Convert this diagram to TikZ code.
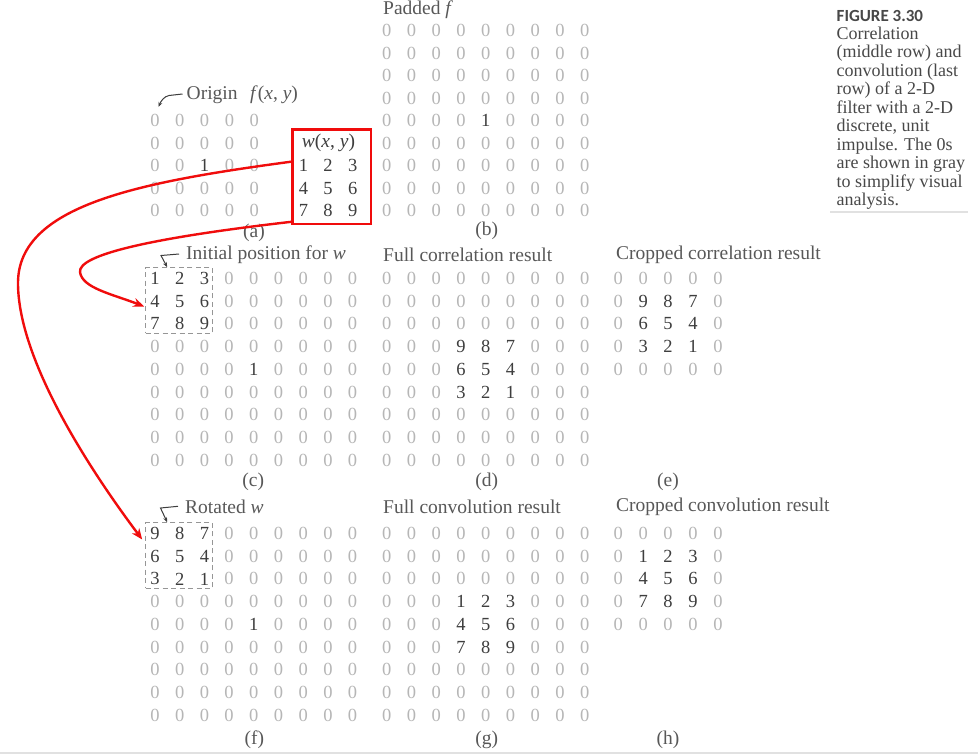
\documentclass[tikz,border=0pt]{standalone}
\usepackage{fontspec}
\setmainfont{Liberation Serif}
\newfontfamily\figfont{Carlito}
\usetikzlibrary{arrows.meta,calc}
\definecolor{zgray}{RGB}{182,182,182}
\definecolor{dgray}{RGB}{62,62,62}
\definecolor{lgray}{RGB}{88,88,88}
\definecolor{capgray}{RGB}{72,72,72}
\definecolor{boxred}{RGB}{240,12,12}
\definecolor{dashgray}{RGB}{150,150,150}
\definecolor{rulegray}{RGB}{225,225,225}
\newcommand\mygrid[6]{%
  \foreach \r [count=\j from 0] in {#6} {
    \foreach \v [count=\i from 0] in \r {
      \ifnum\v=0
        \node[zr] (#1-\j-\i) at ({#2+#4*\i},{#3+#5*\j}) {0};
      \else
        \node[nz] (#1-\j-\i) at ({#2+#4*\i},{#3+#5*\j}) {\v};
      \fi
    }
  }
}
\tikzset{
  zr/.style={text=zgray, inner sep=0, font=\fontsize{18.5}{20}\selectfont},
  nz/.style={text=dgray, inner sep=0, font=\fontsize{18.5}{20}\selectfont},
  lab/.style={text=lgray, inner sep=0, anchor=west, font=\fontsize{19.5}{22}\selectfont},
  sublab/.style={text=lgray, inner sep=0, font=\fontsize{19.5}{22}\selectfont},
  capline/.style={text=capgray, inner sep=0, anchor=base west, font=\fontsize{18}{18.5}\selectfont},
  dashbox/.style={draw=dashgray, line width=1pt, dash pattern=on 5pt off 3.5pt, inner sep=0},
  redbox/.style={draw=boxred, line width=2.6pt, inner sep=0},
  redarrow/.style={draw=boxred, line width=2.4pt, -{Stealth[length=11pt,width=9pt]}},
  leader/.style={draw=dgray, line width=1pt, -{Stealth[length=5pt,width=4pt]}},
}
\begin{document}
\begin{tikzpicture}[x=1pt,y=-1pt]
\fill[white] (0,0) rectangle (978,755);
\useasboundingbox (0,0) rectangle (978,755);

% (a) f(x,y)
\mygrid{a}{155}{120.7}{24.8}{22.5}{{0,0,0,0,0},{0,0,0,0,0},{0,0,1,0,0},{0,0,0,0,0},{0,0,0,0,0}}
\node[lab] (orig) at (186.5,95) {Origin};
\node[lab] (flab) at (250,95) {\textit{f}(\textit{x}, \textit{y})};
\coordinate (o1) at ($(orig.west)+(-4,-1)$);
\coordinate (ot) at (158.5,107);
\draw[leader] (o1) -- (169,95.5) .. controls (164,96.5) and (161,101) .. (ot);
\node[sublab] (suba) at (254,233) {(a)};

% w box
\node[redbox, minimum width=78.3, minimum height=94.7] (wbox) at (331.85,176.65) {};
\node[nz, font=\fontsize{19.5}{22}\selectfont] (wlab) at (328.5,143.2) {\textit{w}(\textit{x}, \textit{y})};
\mygrid{w}{303.5}{165.7}{24.6}{22.5}{{1,2,3},{4,5,6},{7,8,9}}

% (b) padded f
\node[lab] (padlab) at (383,10) {Padded \textit{f}};
\mygrid{b}{386.7}{30.7}{24.75}{22.5}{{0,0,0,0,0,0,0,0,0},{0,0,0,0,0,0,0,0,0},{0,0,0,0,0,0,0,0,0},{0,0,0,0,0,0,0,0,0},{0,0,0,0,1,0,0,0,0},{0,0,0,0,0,0,0,0,0},{0,0,0,0,0,0,0,0,0},{0,0,0,0,0,0,0,0,0},{0,0,0,0,0,0,0,0,0}}
\node[sublab] (subb) at (486.7,231) {(b)};

% (c) initial position
\node[lab] (initlab) at (186,255) {Initial position for \textit{w}};
\mygrid{c}{155}{278.5}{24.7}{22.7}{{1,2,3,0,0,0,0,0,0},{4,5,6,0,0,0,0,0,0},{7,8,9,0,0,0,0,0,0},{0,0,0,0,0,0,0,0,0},{0,0,0,0,1,0,0,0,0},{0,0,0,0,0,0,0,0,0},{0,0,0,0,0,0,0,0,0},{0,0,0,0,0,0,0,0,0},{0,0,0,0,0,0,0,0,0}}
\node[dashbox, minimum width=67, minimum height=65.6] (cbox) at (179.2,300.5) {};
\coordinate (i1) at ($(initlab.west)+(-7,-1)$);
\coordinate (ct) at ($(cbox.north west)+(22,0)$);
\draw[leader] (i1) -- (161,255.5) -- (ct);
\node[sublab] (subc) at (253.3,481.5) {(c)};

% (d) full correlation
\node[lab] (dlab) at (383,255) {Full correlation result};
\mygrid{d}{386.7}{278.5}{24.75}{22.7}{{0,0,0,0,0,0,0,0,0},{0,0,0,0,0,0,0,0,0},{0,0,0,0,0,0,0,0,0},{0,0,0,9,8,7,0,0,0},{0,0,0,6,5,4,0,0,0},{0,0,0,3,2,1,0,0,0},{0,0,0,0,0,0,0,0,0},{0,0,0,0,0,0,0,0,0},{0,0,0,0,0,0,0,0,0}}
\node[sublab] (subd) at (486.7,481.5) {(d)};

% (e) cropped correlation
\node[lab] (elab) at (616,255) {Cropped correlation result};
\mygrid{e}{618.3}{278.5}{24.9}{22.7}{{0,0,0,0,0},{0,9,8,7,0},{0,6,5,4,0},{0,3,2,1,0},{0,0,0,0,0}}
\node[sublab] (sube) at (668,481.5) {(e)};

% (f) rotated w
\node[lab] (rotlab) at (185,507.3) {Rotated \textit{w}};
\mygrid{f}{155}{533.5}{24.7}{22.7}{{9,8,7,0,0,0,0,0,0},{6,5,4,0,0,0,0,0,0},{3,2,1,0,0,0,0,0,0},{0,0,0,0,0,0,0,0,0},{0,0,0,0,1,0,0,0,0},{0,0,0,0,0,0,0,0,0},{0,0,0,0,0,0,0,0,0},{0,0,0,0,0,0,0,0,0},{0,0,0,0,0,0,0,0,0}}
\node[dashbox, minimum width=67, minimum height=65.6] (fbox) at (179.2,555.5) {};
\coordinate (r1) at ($(rotlab.west)+(-7,-1)$);
\coordinate (rt) at ($(fbox.north west)+(22,0)$);
\draw[leader] (r1) -- (160.5,508) -- (rt);
\node[sublab] (subf) at (254.3,739.5) {(f)};

% (g) full convolution
\node[lab] (glab) at (383,507.3) {Full convolution result};
\mygrid{g}{386.7}{533.5}{24.75}{22.7}{{0,0,0,0,0,0,0,0,0},{0,0,0,0,0,0,0,0,0},{0,0,0,0,0,0,0,0,0},{0,0,0,1,2,3,0,0,0},{0,0,0,4,5,6,0,0,0},{0,0,0,7,8,9,0,0,0},{0,0,0,0,0,0,0,0,0},{0,0,0,0,0,0,0,0,0},{0,0,0,0,0,0,0,0,0}}
\node[sublab] (subg) at (486.7,739.5) {(g)};

% (h) cropped convolution
\node[lab] (hlab) at (616,507.3) {Cropped convolution result};
\mygrid{h}{618.3}{533.5}{24.9}{22.7}{{0,0,0,0,0},{0,1,2,3,0},{0,4,5,6,0},{0,7,8,9,0},{0,0,0,0,0}}
\node[sublab] (subh) at (668,739.5) {(h)};

% red connectors
\coordinate (wa) at ($(wbox.west)+(0,-15)$);
\coordinate (wb) at ($(wbox.south west)+(0,-3.5)$);
\coordinate (fa) at ($(fbox.west)+(-3,-16)$);
\coordinate (fb) at ($(cbox.west)+(-1,6)$);
\draw[redarrow] (wa) .. controls (140,182) and (18,205) .. (18,283) .. controls (18,360) and (90,470) .. (fa);
\draw[redarrow] (wb) .. controls (150,238) and (78,255) .. (80,272) .. controls (82,288) and (112,294) .. (fb);

% caption
\node[inner sep=0, anchor=west, text=capgray, font=\figfont\bfseries\fontsize{17}{18}\selectfont] (fig) at (836.5,15.5) {FIGURE 3.30};
\foreach \t [count=\k from 0] in {Correlation,(middle row) and,convolution (last,row) of a 2-D,filter with a 2-D,{discrete, unit},impulse. The 0s,are shown in gray,to simplify visual,analysis.} {
  \node[capline] (cap\k) at (836.5,{39+18.5*\k}) {\t};
}
\draw[rulegray, line width=1.5pt] (830,212) -- (968,212);
\draw[rulegray, line width=1.5pt] (0,753) -- (978,753);
\end{tikzpicture}
\end{document}
